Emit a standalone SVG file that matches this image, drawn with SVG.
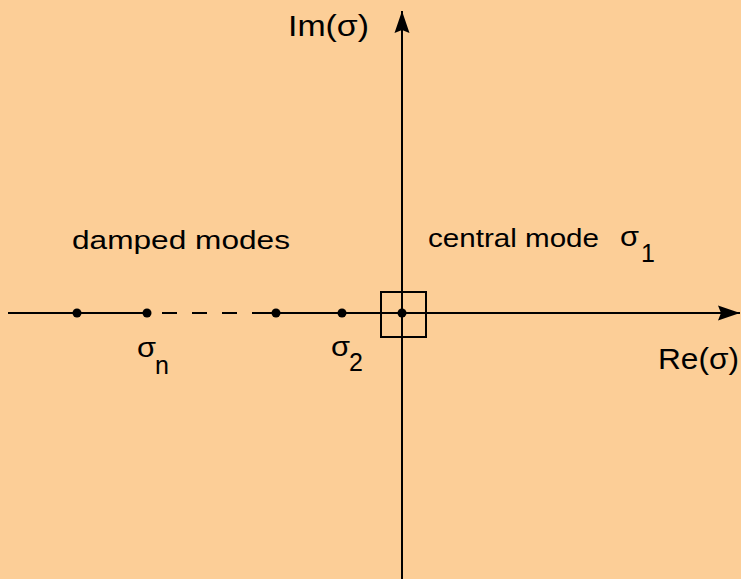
<svg xmlns="http://www.w3.org/2000/svg" width="741" height="579" viewBox="0 0 741 579">
<style>
.t{font-family:"Liberation Sans",Arial,sans-serif;fill:#000}
.ax{stroke:#000;stroke-width:2;fill:none}
.dot{fill:#000}
</style>
<defs>
<marker id="ah" markerUnits="userSpaceOnUse" markerWidth="24" markerHeight="18" refX="22" refY="9" orient="auto" viewBox="0 0 24 18">
<path d="M0,1.5 L22,9 L0,16.5 L3,9 Z" fill="#000"/>
</marker>
</defs>
<rect width="741" height="579" fill="#FCCE97"/>
<g id="connectors">
<line class="ax" x1="8" y1="313" x2="150" y2="313"/>
<line class="ax" x1="162" y1="313" x2="268" y2="313" stroke-dasharray="15,15"/>
<line class="ax" x1="262" y1="313" x2="740" y2="313" marker-end="url(#ah)"/>
<line class="ax" x1="402" y1="579" x2="402" y2="11" marker-end="url(#ah)"/>
</g>
<g id="box">
<rect class="ax" x="381" y="292" width="45" height="45"/>
</g>
<g id="points">
<circle class="dot" cx="77" cy="313" r="4.5"/>
<circle class="dot" cx="147" cy="313" r="4.5"/>
<circle class="dot" cx="276" cy="313" r="4.5"/>
<circle class="dot" cx="342" cy="313" r="4.5"/>
<circle class="dot" cx="402" cy="313" r="4.5"/>
</g>
<g id="labels">
<text class="t" x="288" y="36" font-size="30" textLength="81" lengthAdjust="spacingAndGlyphs">Im(σ)</text>
<text class="t" x="658" y="369" font-size="30" textLength="81" lengthAdjust="spacingAndGlyphs">Re(σ)</text>
<text class="t" x="72" y="249" font-size="26" textLength="218" lengthAdjust="spacingAndGlyphs">damped modes</text>
<text class="t" x="428" y="247" font-size="26" textLength="171" lengthAdjust="spacingAndGlyphs">central mode</text>
<text class="t" x="620" y="246" font-size="28" textLength="19" lengthAdjust="spacingAndGlyphs">σ</text>
<text class="t" x="641" y="262" font-size="25">1</text>
<text class="t" x="137" y="357" font-size="28" textLength="19" lengthAdjust="spacingAndGlyphs">σ</text>
<text class="t" x="155" y="374" font-size="25">n</text>
<text class="t" x="331" y="356" font-size="28" textLength="19" lengthAdjust="spacingAndGlyphs">σ</text>
<text class="t" x="349" y="371" font-size="25">2</text>
</g>
</svg>
